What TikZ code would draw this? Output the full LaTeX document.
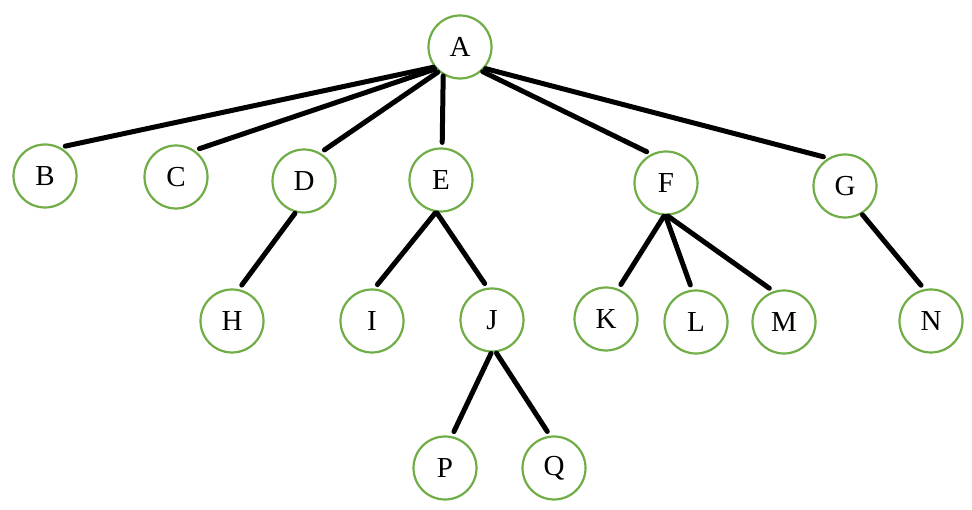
\documentclass[tikz,border=0pt]{standalone}
\usepackage{fontspec}
\setmainfont{Liberation Serif}
\usepackage{tikz}
\usetikzlibrary{shapes,positioning,calc}
\usepackage{xcolor}
\definecolor{leafgreen}{HTML}{70AD47}

\begin{document}
\begin{tikzpicture}[x=1pt, y=1pt,
  vtx/.style={circle, draw=leafgreen, line width=2.2pt, fill=white, minimum size=63pt, inner sep=0pt, font=\fontsize{29}{32}\selectfont},
  link/.style={line width=5pt, black, line cap=round, shorten >=5pt, shorten <=1pt}
]
  \useasboundingbox (0,0) rectangle (972,510);

  % top level
  \node[vtx] (A) at (460,463) {A};
  % second level
  \node[vtx] (B) at (45,334) {B};
  \node[vtx] (C) at (176,333) {C};
  \node[vtx] (D) at (304,329) {D};
  \node[vtx] (E) at (441,330) {E};
  \node[vtx] (F) at (666,327) {F};
  \node[vtx] (G) at (845,324) {G};
  % third level
  \node[vtx] (H) at (232,189) {H};
  \node[vtx] (I) at (372,189) {I};
  \node[vtx] (J) at (492,190) {J};
  \node[vtx] (K) at (606,191) {K};
  \node[vtx] (L) at (696,188) {L};
  \node[vtx] (M) at (784,188) {M};
  \node[vtx] (N) at (931,189) {N};
  % fourth level
  \node[vtx] (P) at (445,42) {P};
  \node[vtx] (Q) at (554,42) {Q};

  \draw[link] (A.-142) -- (B.62);
  \draw[link] (A.-138) -- (C.55);
  \draw[link] (A.-131) -- (D.60);
  \draw[link] (A.-121) -- (E.88);
  \draw[link] (A.-48) -- (F.117);
  \draw[link] (A.-41) -- (G.121);
  \draw[link] (D.-105) -- (H.78);
  \draw[link] (E.-99) -- (I.86);
  \draw[link] (E.-98) -- (J.98);
  \draw[link] (J.-91) -- (P.78);
  \draw[link] (J.-83) -- (Q.97);
  \draw[link] (F.-93) -- (K.68);
  \draw[link] (F.-91) -- (L.97);
  \draw[link] (F.-88) -- (M.109);
  \draw[link] (G.-59) -- (N.102);
\end{tikzpicture}
\end{document}
